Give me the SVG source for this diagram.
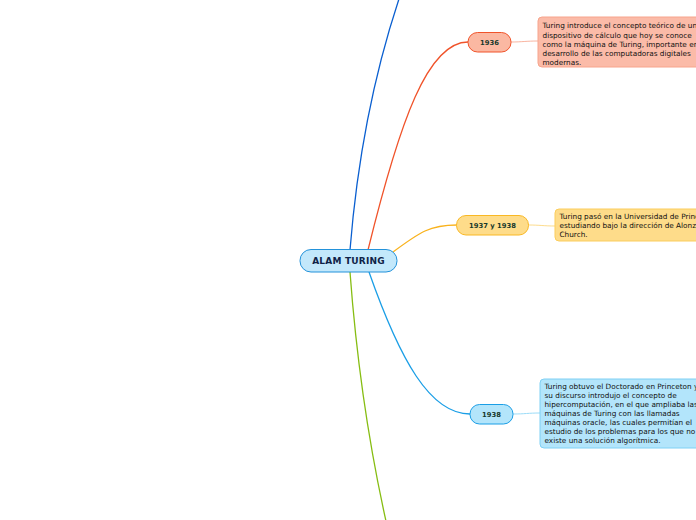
<svg xmlns="http://www.w3.org/2000/svg" width="696" height="520" viewBox="0 0 696 520">
<style>
.c{fill:none;stroke-width:1.3}
.l{fill:none;stroke-width:1}
.t{font-family:"DejaVu Sans",Verdana,sans-serif;font-size:7.3px;fill:#111}
.n{font-family:"DejaVu Sans",Verdana,sans-serif;font-size:6.8px;font-weight:bold;fill:#17392c;text-anchor:middle}
</style>
<rect width="696" height="520" fill="#fff"/>
<g id="connectors">
<path class="c" stroke="#0a5fd0" d="M350,250 C358,150 378,60 402,-10"/>
<path class="c" stroke="#f0532a" d="M368,250 C400,120 428,42 468,42"/>
<path class="c" stroke="#f9b21c" d="M393,252 C420,232 430,225 457,225"/>
<path class="c" stroke="#1a9ee6" d="M369,272 C400,360 430,414 470,414"/>
<path class="c" stroke="#86bd12" d="M350,272 C358,380 372,460 388,530"/>
<path class="l" stroke="#f9b4a0" d="M511,42 C522,42 526,41 538,41"/>
<path class="l" stroke="#fddc8c" d="M528,225 C540,225 544,226 555,226"/>
<path class="l" stroke="#9bdcf8" d="M513,414 C525,414 528,413 540,413"/>
</g>
<g id="root">
<rect x="300" y="249.5" width="97" height="22.5" rx="11" fill="#c3e8fb" stroke="#2392da" stroke-width="1"/>
<text x="348.5" y="264.2" font-family="'DejaVu Sans',Verdana,sans-serif" font-size="9" font-weight="bold" fill="#0f2347" text-anchor="middle" letter-spacing="0.2">ALAM TURING</text>
</g>
<g id="n1936">
<rect x="468" y="32.5" width="43" height="19.5" rx="9.5" fill="#fbb8a2" stroke="#f0532a" stroke-width="1"/>
<text class="n" x="489.5" y="44.8">1936</text>
</g>
<g id="n1937">
<rect x="456.5" y="215.5" width="72" height="19.5" rx="9.5" fill="#fedc8a" stroke="#f9b824" stroke-width="1"/>
<text class="n" x="492.5" y="227.8">1937 y 1938</text>
</g>
<g id="n1938">
<rect x="470" y="404.5" width="43" height="19.5" rx="9.5" fill="#b3e5fb" stroke="#1a9ee6" stroke-width="1"/>
<text class="n" x="491.5" y="416.8">1938</text>
</g>
<g id="d1936">
<rect x="538" y="17" width="190" height="50" rx="4" fill="#fbbba8" stroke="#f7a48c" stroke-width="1"/>
<text class="t" x="542.5" y="28.3"><tspan x="542.5">Turing introduce el concepto teórico de una</tspan><tspan x="542.5" dy="9.2">dispositivo de cálculo que hoy se conoce</tspan><tspan x="542.5" dy="9.2">como la máquina de Turing, importante en el</tspan><tspan x="542.5" dy="9.2">desarrollo de las computadoras digitales</tspan><tspan x="542.5" dy="9.2">modernas.</tspan></text>
</g>
<g id="d1937">
<rect x="555" y="209" width="175" height="32" rx="4" fill="#fedc8a" stroke="#fbcd5c" stroke-width="1"/>
<text class="t" x="559.5" y="219.3"><tspan x="559.5">Turing pasó en la Universidad de Princeton</tspan><tspan x="559.5" dy="8.9">estudiando bajo la dirección de Alonzo</tspan><tspan x="559.5" dy="8.9">Church.</tspan></text>
</g>
<g id="d1938">
<rect x="540" y="379" width="190" height="69" rx="4" fill="#b3e5fb" stroke="#7fd0f4" stroke-width="1"/>
<text class="t" x="544.5" y="389.3"><tspan x="544.5">Turing obtuvo el Doctorado en Princeton y en</tspan><tspan x="544.5" dy="9">su discurso introdujo el concepto de</tspan><tspan x="544.5" dy="9">hipercomputación, en el que ampliaba las</tspan><tspan x="544.5" dy="9">máquinas de Turing con las llamadas</tspan><tspan x="544.5" dy="9">máquinas oracle, las cuales permitían el</tspan><tspan x="544.5" dy="9">estudio de los problemas para los que no</tspan><tspan x="544.5" dy="9">existe una solución algorítmica.</tspan></text>
</g>
</svg>
